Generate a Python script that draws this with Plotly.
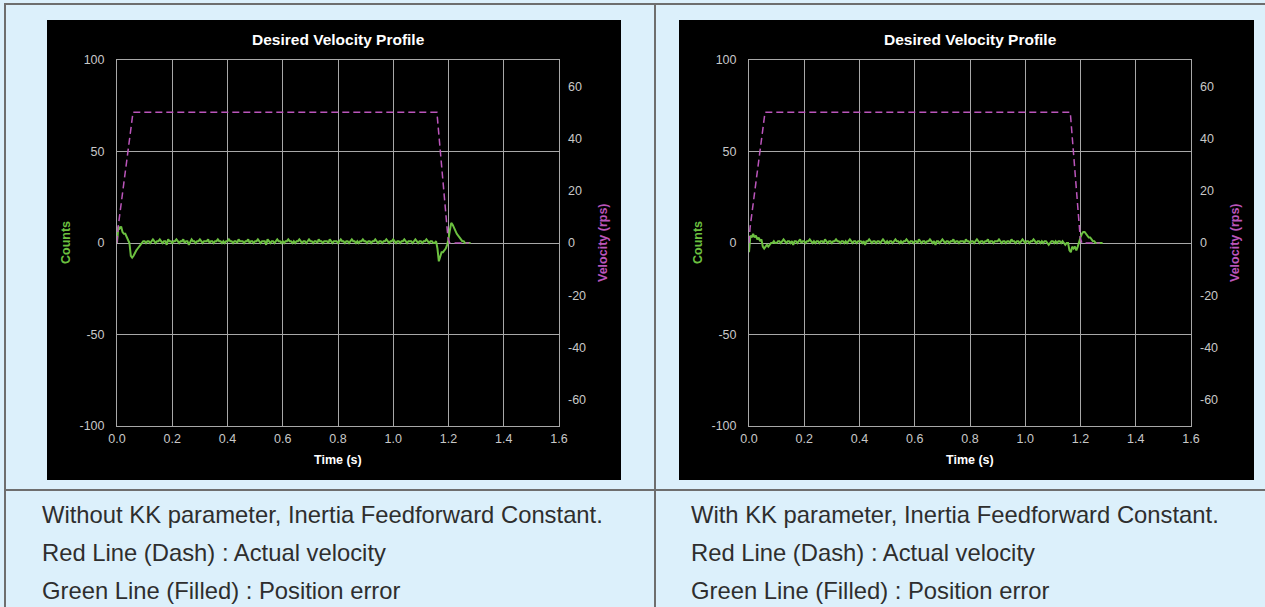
import plotly.graph_objects as go

# ---------------- data ----------------
# sample times (s) for the position-error traces: 0.000 .. 1.280, every 5 ms
time_s = [round(i * 0.005, 3) for i in range(257)]

# Position error (counts) - without KK
err_without_kk = [
    0, 9, 8, 9, 6, 5, 5, 3, 2, 0, -7, -8, -7, -5, -4, -3, -2, -1, 0, 1,
    1, 0, 1, 1, 0, 1, 2, 1, 0, 1, 1, 2, 1, 0, 1, 1, -1, 2, 1, 1,
    0, 1, 1, 2, 1, 0, 1, 1, 2, 0, 1, 1, -1, 1, 2, 1, 1, 0, 1, 1,
    2, 1, 0, 1, 1, 1, 2, 0, 1, 1, 0, 1, 1, 2, 1, 1, 0, 1, 0, 1,
    1, 2, 1, 1, 0, 1, 1, 0, 2, 1, 1, 1, 0, 1, 1, 2, 0, 1, 1, 0,
    1, 1, 2, 1, 0, 1, 1, 1, -1, 2, 1, 0, 1, 1, 0, 1, 2, 1, 1, 0,
    1, 0, 1, 1, 2, 1, 1, 0, 1, 0, 1, 1, 2, 1, 0, 1, 1, 0, 1, 2,
    1, 1, 0, 1, 1, 0, 2, 1, 1, 0, 1, 1, 1, 0, 2, 1, 0, 1, 1, 1,
    0, 1, 2, 1, 1, 0, 1, 1, 0, 1, 2, 1, 1, 0, 1, 0, 1, 1, 2, 1,
    1, 0, 1, 1, 0, 1, 1, 2, 1, 0, 1, 1, 0, 1, 1, 2, 1, 0, 1, 1,
    2, 1, 0, 1, 1, 0, 1, 1, 2, 1, 0, 1, 1, 1, 0, 1, 2, 1, 0, 1,
    1, 0, 1, 1, 2, 1, 0, 1, 1, 0, 0,
    1, -3, -10, -7, -5, -5, -4, -3, -1, 2, 7, 11, 10, 8, 6, 5, 4, 3, 2, 1,
    1, 0, 0, 0, 0, 0,
]

# Position error (counts) - with KK
err_with_kk = [
    -5, 4, 3, 5, 3, 4, 2, 3, 1, 2, -2, -3, -2, -1, -2, -1, 0, 0, 1, 0,
    0, 1, 1, 0, 1, 2, 1, 0, 1, 1, 0, 1, -1, 1, 1, 0, 1, 2, 0, 1,
    1, 0, 1, 1, 2, 1, 0, 1, 0, 1, 1, 0, 1, 1, 0, 2, 1, 0, 1, 1,
    0, 1, 1, 2, 1, 1, 0, 1, 1, 0, 1, 0, 1, 2, 1, 0, 1, 1, 0, 1,
    1, 1, 0, 1, -1, 1, 1, 2, 1, 0, 1, 1, 0, 1, 1, 0, 1, 2, 1, 0,
    1, 0, 1, 1, 0, 1, 2, 1, 1, 0, 1, 0, 1, 1, 2, 1, 0, 1, 1, 0,
    1, 1, 0, 2, 1, 0, 1, 1, 0, 1, 1, 2, 1, 0, 1, -1, 1, 1, 0, 1,
    2, 1, 0, 1, 1, 0, 1, 1, 2, 0, 1, 1, 0, 1, 1, 1, 0, 2, 1, 1,
    0, 1, 1, 0, 1, 2, 1, 0, 1, 1, 0, 1, 1, 2, 0, 1, 1, 0, 1, 1,
    1, 2, 1, 0, 1, 1, 0, 1, 1, 0, 2, 1, 1, 0, 1, 1, 0, 1, 2, 1,
    0, 1, 1, 0, 1, 1, 2, 1, 0, 1, 1, 0, 1, 0, 1, 1, 0, -1, 0, 1,
    1, 0, 1, 0, 1, 1, 0, 1, 0, -1, 0,
    0, -4, -5, -2, -3, -2, -4, -2, 1, 3, 5, 6, 6, 5, 4, 3, 3, 2, 1, 1,
    0, 0, 0, 0, 0, 0,
]

# Velocity profile (rps) breakpoints
vel_without_kk_t = [0.0, 0.004, 0.058, 1.158, 1.198, 1.204, 1.275]
vel_without_kk = [0, 6, 50, 50, 2, 0, 0]
vel_with_kk_t = [0.0, 0.004, 0.058, 1.163, 1.199, 1.205, 1.27]
vel_with_kk = [0, 6, 50, 50, 2, 0, 0]

x_ticks = [0.0, 0.2, 0.4, 0.6, 0.8, 1.0, 1.2, 1.4, 1.6]
x_labels = ["0.0", "0.2", "0.4", "0.6", "0.8", "1.0", "1.2", "1.4", "1.6"]
count_ticks = [-100, -50, 0, 50, 100]
count_labels = ["-100", "-50", "0", "50", "100"]
vel_ticks = [-60, -40, -20, 0, 20, 40, 60]
vel_labels = ["-60", "-40", "-20", "0", "20", "40", "60"]

chart_title = "Desired Velocity Profile"
captions_left = ["Without KK parameter, Inertia Feedforward Constant.",
                 "Red Line (Dash) : Actual velocity",
                 "Green Line (Filled) : Position error"]
captions_right = ["With KK parameter, Inertia Feedforward Constant.",
                  "Red Line (Dash) : Actual velocity",
                  "Green Line (Filled) : Position error"]

# ---------------- styling ----------------
W, H = 1265, 607
BG = "#dcf0fb"
GREEN = "#6cc040"
MAGENTA = "#bb55bb"
GRID = "#a8a8a8"
TICK = "#c8c8c8"
BORDER = "#6e6e6e"
FONT = "Liberation Sans, Arial, sans-serif"


def fx(p):
    return p / W


def fy(p):
    return 1 - p / H


fig = go.Figure()

# traces
fig.add_trace(go.Scatter(x=time_s, y=err_without_kk, mode="lines",
                         line=dict(color=GREEN, width=2), xaxis="x", yaxis="y"))
fig.add_trace(go.Scatter(x=vel_without_kk_t, y=vel_without_kk, mode="lines",
                         line=dict(color=MAGENTA, width=1.5, dash="7px,4px"),
                         xaxis="x", yaxis="y3"))
fig.add_trace(go.Scatter(x=time_s, y=err_with_kk, mode="lines",
                         line=dict(color=GREEN, width=2), xaxis="x2", yaxis="y2"))
fig.add_trace(go.Scatter(x=vel_with_kk_t, y=vel_with_kk, mode="lines",
                         line=dict(color=MAGENTA, width=1.5, dash="7px,4px"),
                         xaxis="x2", yaxis="y4"))

panels = [
    dict(plot=(117, 559), black=(47, 621), counts_x=66, vel_x=603, text_x=40,
         captions=captions_left, xa="xaxis", ya="yaxis", va="yaxis3",
         xref="x", yref="y"),
    dict(plot=(749, 1191), black=(679, 1254), counts_x=698, vel_x=1235, text_x=689,
         captions=captions_right, xa="xaxis2", ya="yaxis2", va="yaxis4",
         xref="x2", yref="y2"),
]

plot_top, plot_bot = 60, 426
ydom = [fy(plot_bot), fy(plot_top)]

shapes = []
annotations = []
layout_axes = {}

for p in panels:
    x0, x1 = p["plot"]
    cx = (x0 + x1) / 2
    # black chart panel
    shapes.append(dict(type="rect", xref="paper", yref="paper",
                       x0=fx(p["black"][0]), x1=fx(p["black"][1]),
                       y0=fy(480), y1=fy(20), fillcolor="black",
                       line=dict(width=0), layer="below"))
    layout_axes[p["xa"]] = dict(
        domain=[fx(x0), fx(x1)], range=[0, 1.6], anchor=p["yref"],
        tickvals=x_ticks, ticktext=x_labels, automargin=False,
        showgrid=True, gridcolor=GRID, gridwidth=1,
        showline=True, mirror=True, linecolor=GRID, linewidth=1,
        zeroline=False, ticks="", ticklabelstandoff=1,
        tickfont=dict(family=FONT, size=12.5, color=TICK), fixedrange=True)
    layout_axes[p["ya"]] = dict(
        domain=ydom, range=[-100, 100], anchor=p["xref"],
        tickvals=count_ticks, ticktext=count_labels, automargin=False,
        showgrid=True, gridcolor=GRID, gridwidth=1,
        showline=True, mirror=True, linecolor=GRID, linewidth=1,
        zeroline=False, ticks="", ticklabelstandoff=9,
        tickfont=dict(family=FONT, size=12.5, color=TICK), fixedrange=True)
    layout_axes[p["va"]] = dict(
        overlaying=p["yref"], side="right", anchor=p["xref"],
        range=[-70, 70], tickvals=vel_ticks, ticktext=vel_labels, automargin=False,
        showgrid=False, showline=False, zeroline=False, ticks="", ticklabelstandoff=8,
        tickfont=dict(family=FONT, size=12.5, color=TICK), fixedrange=True)

    annotations += [
        dict(text=f"<b>{chart_title}</b>", x=fx(cx), y=fy(40), xref="paper", yref="paper",
             showarrow=False, xanchor="center", yanchor="middle",
             font=dict(family=FONT, size=15.5, color="white")),
        dict(text="<b>Time (s)</b>", x=fx(cx), y=fy(460), xref="paper", yref="paper",
             showarrow=False, xanchor="center", yanchor="middle",
             font=dict(family=FONT, size=12.5, color="white")),
        dict(text="<b>Counts</b>", x=fx(p["counts_x"]), y=fy(243), xref="paper", yref="paper",
             showarrow=False, xanchor="center", yanchor="middle", textangle=-90,
             font=dict(family=FONT, size=12.5, color=GREEN)),
        dict(text="<b>Velocity (rps)</b>", x=fx(p["vel_x"]), y=fy(243), xref="paper", yref="paper",
             showarrow=False, xanchor="center", yanchor="middle", textangle=-90,
             font=dict(family=FONT, size=12.5, color=MAGENTA)),
    ]
    for i, line in enumerate(p["captions"]):
        annotations.append(dict(text=line, x=fx(p["text_x"]), y=fy(514 + 38 * i),
                                xref="paper", yref="paper", showarrow=False,
                                xanchor="left", yanchor="middle",
                                font=dict(family=FONT, size=23.8, color="#2e2e2e")))

# table borders
for (xa, ya, xb, yb) in [(4, 4, 1265, 4), (5, 4, 5, 607), (655, 4, 655, 607), (4, 490, 1265, 490)]:
    shapes.append(dict(type="line", xref="paper", yref="paper",
                       x0=fx(xa), y0=fy(ya), x1=fx(xb), y1=fy(yb),
                       line=dict(color=BORDER, width=2), layer="above"))

fig.update_layout(
    width=W, height=H, margin=dict(l=0, r=0, t=0, b=0, pad=0, autoexpand=False),
    paper_bgcolor=BG, plot_bgcolor="black", showlegend=False,
    shapes=shapes, annotations=annotations, **layout_axes,
)

fig.write_html(
    "out.html",
    config={"displayModeBar": False},
    post_script="document.body.style.margin='0';document.body.style.overflow='hidden';",
)
